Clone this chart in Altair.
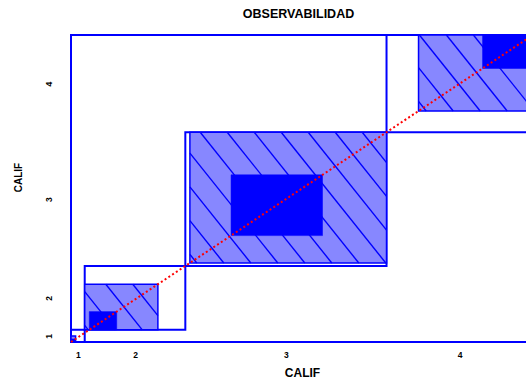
import math

import altair as alt
import pandas as pd

# Agreement chart (Bangdiwala) for two ratings of CALIF
categories = ["1", "2", "3", "4"]

# Contingency table: rows = CALIF on the vertical axis, columns = CALIF on the horizontal axis
counts_row_1 = [1, 1, 1, 1]
counts_row_2 = [0, 6, 9, 6]
counts_row_3 = [1, 9, 20, 14]
counts_row_4 = [1, 6, 14, 11]
table = [counts_row_1, counts_row_2, counts_row_3, counts_row_4]

chart_title = "OBSERVABILIDAD"
axis_title = "CALIF"

# visible part of the horizontal axis
x_view_max = 99.5

# layout
W, H = 455, 307
BLUE = "#0000ff"
HATCH_FILL = "#8787ff"
RED = "#ff0000"
FONT = "Liberation Sans"

k = len(categories)
row_totals = [sum(r) for r in table]
col_totals = [sum(table[r][c] for r in range(k)) for c in range(k)]
n_total = sum(row_totals)


def cumulative(vals):
    out = [0]
    for v in vals:
        out.append(out[-1] + v)
    return out


x_cum = cumulative(col_totals)
y_cum = cumulative(row_totals)

boxes, partial, exact = [], [], []
for i in range(k):
    boxes.append(dict(cat=categories[i], x0=x_cum[i], x1=x_cum[i + 1],
                      y0=y_cum[i], y1=y_cum[i + 1]))
    lo, hi = max(0, i - 1), min(k - 1, i + 1)
    px0 = x_cum[i] + sum(table[r][i] for r in range(lo))
    py0 = y_cum[i] + sum(table[i][c] for c in range(lo))
    pw = sum(table[r][i] for r in range(lo, hi + 1))
    ph = sum(table[i][c] for c in range(lo, hi + 1))
    partial.append(dict(cat=categories[i], x0=px0, x1=px0 + pw, y0=py0, y1=py0 + ph))
    ex0 = x_cum[i] + sum(table[r][i] for r in range(i))
    ey0 = y_cum[i] + sum(table[i][c] for c in range(i))
    d = table[i][i]
    exact.append(dict(cat=categories[i], x0=ex0, x1=ex0 + d, y0=ey0, y1=ey0 + d))

# diagonal hatching inside the partial-agreement rectangles
px_per_x = W / x_view_max
px_per_y = H / n_total
hatch_slope = 1.25   # screen dy/dx
hatch_gap_px = 27
a = px_per_y / (hatch_slope * px_per_x)
gap = hatch_gap_px / px_per_x
segments = []
for p in partial:
    umin = p["x0"] + a * p["y0"]
    umax = p["x1"] + a * p["y1"]
    j = math.ceil(umin / gap)
    while j * gap <= umax:
        u = j * gap
        ya = max(p["y0"], (u - p["x1"]) / a)
        yb = min(p["y1"], (u - p["x0"]) / a)
        if yb > ya:
            segments.append(dict(x0=u - a * ya, y0=ya, x1=u - a * yb, y1=yb))
        j += 1

frame = pd.DataFrame([dict(x0=0, x1=n_total, y0=0, y1=n_total)])
diagonal = pd.DataFrame([dict(x0=0, y0=0, x1=n_total, y1=n_total)])

x_centers = [(x_cum[i] + x_cum[i + 1]) / 2 for i in range(k)]
y_centers = [(y_cum[i] + y_cum[i + 1]) / 2 for i in range(k)]


def label_expr(centers):
    expr = "''"
    for c, lab in reversed(list(zip(centers, categories))):
        expr = f"datum.value == {c} ? '{lab}' : ({expr})"
    return expr


x_scale = alt.Scale(domain=[0, x_view_max], nice=False, zero=False)
y_scale = alt.Scale(domain=[0, n_total], nice=False, zero=False)

x_axis = alt.Axis(
    values=x_centers, labelExpr=label_expr(x_centers), title=axis_title,
    grid=False, ticks=False, tickSize=0, domain=False, labelFlush=False,
    labelFont=FONT, labelFontSize=8.5, labelFontWeight="bold",
    labelColor="black", labelPadding=8, labelAlign="center", labelBaseline="top",
    titleFont=FONT, titleFontSize=12, titleFontWeight="bold", titleColor="black",
    titleX=231, titleY=30, titleAlign="center", titleBaseline="middle",
)
y_axis = alt.Axis(
    values=y_centers, labelExpr=label_expr(y_centers), title=axis_title,
    grid=False, ticks=False, tickSize=0, domain=False, labelFlush=False,
    labelFont=FONT, labelFontSize=8.5, labelFontWeight="bold",
    labelColor="black", labelPadding=18, labelAngle=270, labelAlign="center",
    labelBaseline="bottom",
    titleFont=FONT, titleFontSize=10, titleFontWeight="bold", titleColor="black",
    titleX=-53, titleY=142, titleAngle=270, titleAlign="center", titleBaseline="middle",
)


def enc(chart):
    return chart.encode(
        x=alt.X("x0:Q", scale=x_scale, axis=x_axis),
        x2="x1:Q",
        y=alt.Y("y0:Q", scale=y_scale, axis=y_axis),
        y2="y1:Q",
    )


frame_layer = enc(alt.Chart(frame).mark_rect(fill="white", stroke=BLUE, strokeWidth=2))
box_layer = enc(alt.Chart(pd.DataFrame(boxes)).mark_rect(fill="white", stroke=BLUE, strokeWidth=2))
partial_layer = enc(alt.Chart(pd.DataFrame(partial)).mark_rect(
    fill=HATCH_FILL, stroke=BLUE, strokeWidth=1.5))
hatch_layer = enc(alt.Chart(pd.DataFrame(segments)).mark_rule(color=BLUE, strokeWidth=1.4))
exact_layer = enc(alt.Chart(pd.DataFrame(exact)).mark_rect(fill=BLUE, stroke=BLUE, strokeWidth=0.5))
diag_layer = enc(alt.Chart(diagonal).mark_rule(
    color=RED, strokeWidth=2, strokeDash=[2, 2.5]))

chart = alt.layer(
    frame_layer, box_layer, partial_layer, hatch_layer, exact_layer, diag_layer
).properties(
    width=W,
    height=H,
    title=alt.TitleParams(
        text=chart_title, font=FONT, fontSize=12.5, fontWeight="bold",
        color="black", anchor="middle", frame="group", offset=4, baseline="alphabetic",
    ),
    padding={"left": 71, "top": 35, "right": 0, "bottom": 38},
    autosize=alt.AutoSizeParams(type="none"),
).configure_view(stroke=None).configure(background="white")

chart.save("out.html", embed_options={"renderer": "svg", "actions": False})
